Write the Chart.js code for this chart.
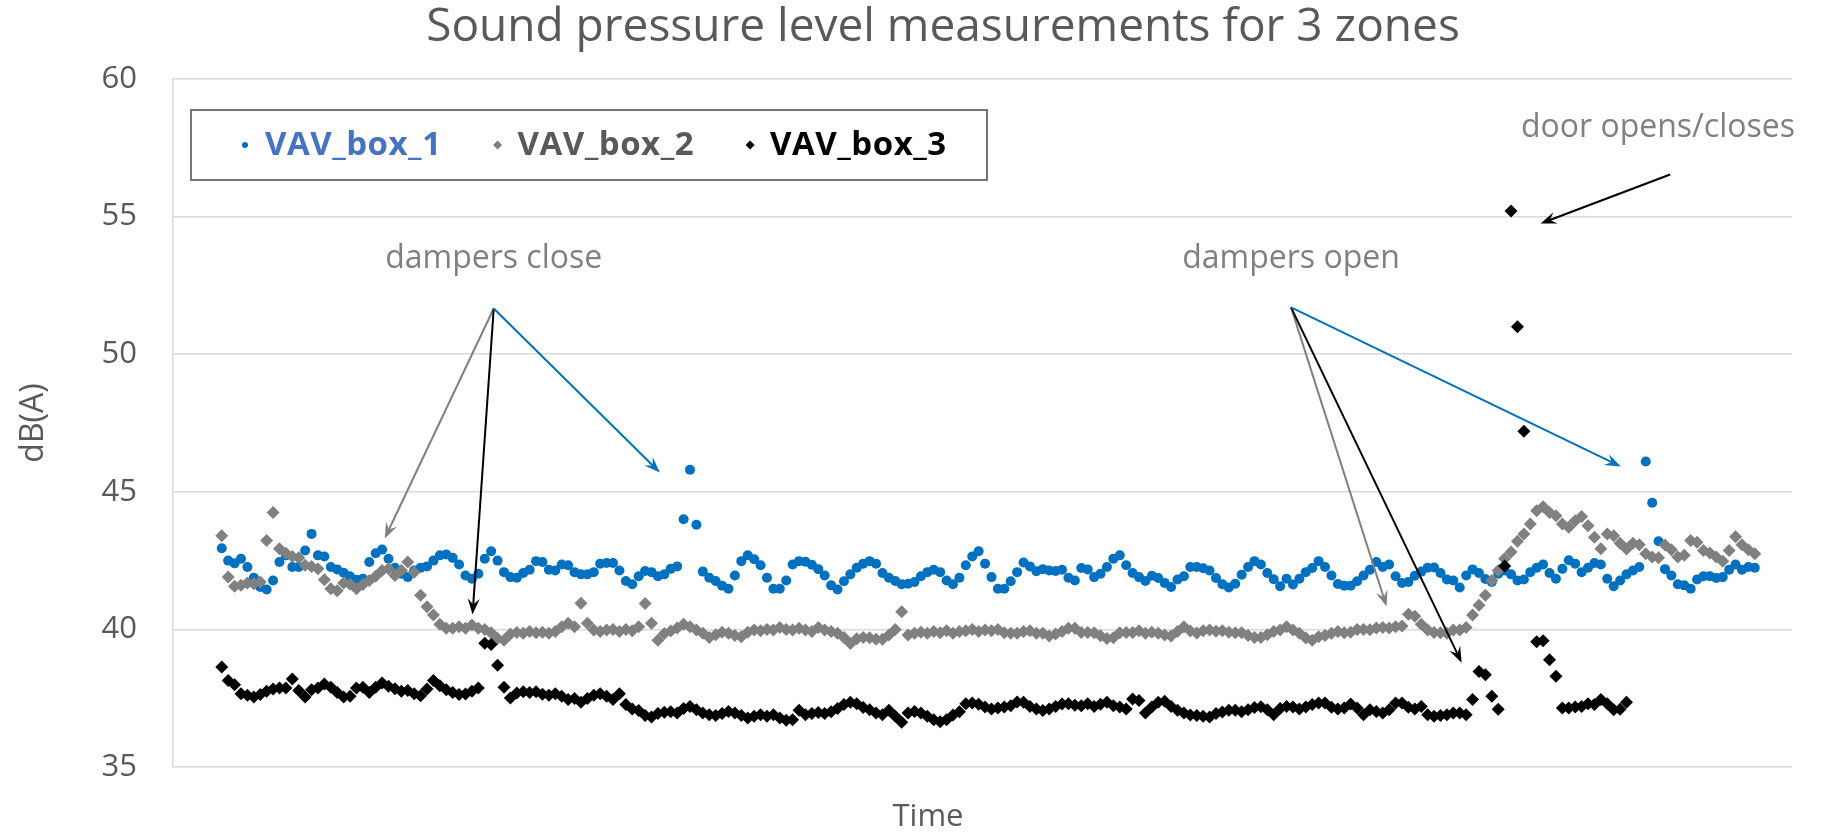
<!DOCTYPE html>
<html>
<head>
<meta charset="utf-8">
<script src="https://cdn.jsdelivr.net/npm/chart.js@4.4.0/dist/chart.umd.min.js"></script>
<style>
  html, body { margin: 0; padding: 0; background: #fff; }
  #wrap { width: 1831px; height: 834px; position: relative; }
</style>
</head>
<body>
<div id="wrap"><canvas id="chart"></canvas></div>
<script>
// sample number along the time axis (no tick labels in the original)
const seriesNames = ['VAV_box_1', 'VAV_box_2', 'VAV_box_3'];

const box1 = [
  42.95, 42.5, 42.4, 42.57, 42.27, 41.88, 41.54, 41.45, 41.78, 42.45,
  42.69, 42.27, 42.27, 42.87, 43.47, 42.69, 42.65, 42.27, 42.18, 42.06,
  41.93, 41.8, 41.84, 42.45, 42.77, 42.9, 42.57, 42.24, 42.02, 41.9,
  42.14, 42.24, 42.29, 42.5, 42.69, 42.72, 42.6, 42.36, 41.96, 41.84,
  42.02, 42.57, 42.84, 42.5, 42.08, 41.9, 41.88, 42.05, 42.17, 42.48,
  42.45, 42.17, 42.14, 42.36, 42.33, 42.08, 42.0, 42.0, 42.08, 42.39,
  42.41, 42.41, 42.14, 41.76, 41.64, 41.93, 42.12, 42.08, 41.93, 42.0,
  42.2, 42.29, 44.0, 45.8, 43.8, 42.1, 41.88, 41.76, 41.59, 41.48,
  41.96, 42.48, 42.69, 42.55, 42.33, 41.88, 41.48, 41.48, 41.78, 42.36,
  42.48, 42.46, 42.35, 42.19, 41.96, 41.6, 41.45, 41.75, 42.0, 42.24,
  42.39, 42.48, 42.39, 42.05, 41.88, 41.76, 41.64, 41.66, 41.72, 41.93,
  42.08, 42.17, 42.08, 41.78, 41.64, 41.88, 42.33, 42.65, 42.84, 42.39,
  41.9, 41.48, 41.48, 41.75, 42.08, 42.43, 42.29, 42.11, 42.19, 42.14,
  42.12, 42.17, 41.88, 41.78, 42.23, 42.18, 41.9, 42.02, 42.27, 42.57,
  42.69, 42.33, 42.05, 41.9, 41.76, 41.95, 41.87, 41.69, 41.54, 41.81,
  41.93, 42.27, 42.27, 42.22, 42.14, 41.87, 41.64, 41.52, 41.66, 41.99,
  42.27, 42.48, 42.36, 42.05, 41.82, 41.57, 41.84, 41.63, 41.84, 42.08,
  42.23, 42.48, 42.27, 41.96, 41.65, 41.59, 41.59, 41.75, 41.96, 42.17,
  42.45, 42.27, 42.36, 41.93, 41.69, 41.72, 41.95, 42.1, 42.24, 42.25,
  42.05, 41.81, 41.78, 41.52, 41.96, 42.18, 42.05, 41.83, 41.72, 42.02,
  42.14, 42.0, 41.78, 41.81, 42.08, 42.24, 42.36, 42.05, 41.84, 42.2,
  42.51, 42.39, 42.08, 42.24, 42.41, 42.36, 41.84, 41.57, 41.78, 42.0,
  42.14, 42.27, 46.1, 44.6, 43.2, 42.19, 41.96, 41.64, 41.6, 41.48,
  41.81, 41.93, 41.93, 41.87, 41.9, 42.17, 42.36, 42.17, 42.27, 42.24
];

const box2 = [
  43.4, 41.9, 41.57, 41.6, 41.69, 41.66, 41.72, 43.23, 44.25, 42.93,
  42.77, 42.65, 42.6, 42.33, 42.29, 42.2, 41.8, 41.48, 41.4, 41.69,
  41.64, 41.48, 41.63, 41.78, 41.93, 42.14, 42.2, 41.96, 42.14, 42.45,
  42.08, 41.24, 40.82, 40.52, 40.19, 40.04, 40.04, 40.1, 40.04, 40.16,
  40.04, 40.0, 39.88, 39.67, 39.61, 39.83, 39.89, 39.86, 39.92, 39.88,
  39.9, 39.86, 39.92, 40.1, 40.22, 40.1, 40.95, 40.22, 39.98, 39.92,
  39.98, 40.0, 39.92, 40.0, 39.95, 40.1, 40.94, 40.22, 39.61, 39.85,
  39.94, 40.05, 40.19, 40.1, 39.98, 39.86, 39.71, 39.81, 39.9, 39.86,
  39.78, 39.73, 39.9, 39.98, 39.95, 40.0, 39.98, 40.07, 40.0, 39.98,
  40.04, 39.98, 39.92, 40.07, 39.98, 39.92, 39.86, 39.71, 39.49, 39.66,
  39.71, 39.7, 39.64, 39.64, 39.8, 40.0, 40.64, 39.8, 39.86, 39.9,
  39.86, 39.92, 39.88, 39.95, 39.86, 39.92, 39.95, 40.0, 39.92, 39.98,
  39.95, 40.0, 39.88, 39.86, 39.86, 39.92, 39.95, 39.86, 39.86, 39.76,
  39.83, 39.92, 40.04, 40.04, 39.89, 39.89, 39.88, 39.77, 39.67, 39.7,
  39.88, 39.89, 39.89, 39.95, 39.86, 39.9, 39.86, 39.8, 39.76, 39.92,
  40.1, 39.94, 39.87, 39.95, 39.98, 39.93, 39.95, 39.9, 39.88, 39.88,
  39.78, 39.71, 39.71, 39.81, 39.92, 39.98, 40.1, 39.98, 39.86, 39.69,
  39.61, 39.73, 39.78, 39.86, 39.92, 39.88, 39.9, 40.0, 40.0, 39.99,
  40.05, 40.07, 40.05, 40.1, 40.12, 40.55, 40.48, 40.19, 39.98, 39.89,
  39.88, 39.86, 39.98, 39.98, 40.07, 40.52, 40.88, 41.24, 41.78, 42.14,
  42.57, 42.81, 43.2, 43.47, 43.83, 44.31, 44.46, 44.25, 44.13, 43.83,
  43.71, 43.95, 44.1, 43.77, 43.35, 42.93, 43.47, 43.4, 43.13, 42.92,
  43.13, 43.08, 42.75, 42.63, 42.6, 43.07, 42.89, 42.63, 42.69, 43.23,
  43.17, 42.87, 42.78, 42.63, 42.48, 42.87, 43.37, 43.08, 42.89, 42.75
];

// null = no reading for that sample
const box3 = [
  38.63, 38.14, 37.99, 37.66, 37.61, 37.54, 37.63, 37.75, 37.83, 37.87,
  37.87, 38.2, 37.78, 37.54, 37.81, 37.87, 38.02, 37.9, 37.71, 37.54,
  37.57, 37.87, 37.9, 37.71, 37.9, 38.05, 37.93, 37.84, 37.75, 37.78,
  37.66, 37.59, 37.83, 38.14, 37.95, 37.81, 37.71, 37.63, 37.65, 37.75,
  37.87, 39.5, 39.45, 38.7, 37.9, 37.51, 37.69, 37.73, 37.71, 37.73,
  37.64, 37.61, 37.66, 37.57, 37.45, 37.49, 37.35, 37.49, 37.61, 37.66,
  37.57, 37.45, 37.66, 37.27, 37.11, 37.05, 36.87, 36.82, 36.94, 36.99,
  37.01, 36.96, 37.13, 37.2, 37.08, 36.96, 36.9, 36.87, 36.94, 37.02,
  36.96, 36.87, 36.78, 36.84, 36.9, 36.84, 36.9, 36.78, 36.7, 36.72,
  37.06, 36.9, 36.94, 36.98, 36.94, 37.01, 37.13, 37.27, 37.35, 37.3,
  37.16, 37.08, 36.96, 36.9, 37.06, 36.84, 36.63, 36.96, 37.02, 36.96,
  36.84, 36.72, 36.64, 36.72, 36.89, 37.01, 37.3, 37.33, 37.28, 37.18,
  37.11, 37.14, 37.18, 37.23, 37.36, 37.35, 37.2, 37.11, 37.05, 37.11,
  37.2, 37.29, 37.3, 37.24, 37.23, 37.3, 37.2, 37.28, 37.35, 37.23,
  37.18, 37.11, 37.47, 37.42, 36.96, 37.18, 37.35, 37.39, 37.2, 37.06,
  36.96, 36.89, 36.87, 36.84, 36.82, 36.94, 37.0, 37.06, 37.06, 37.01,
  37.08, 37.16, 37.19, 37.08, 36.9, 37.13, 37.2, 37.18, 37.11, 37.18,
  37.27, 37.33, 37.33, 37.17, 37.11, 37.14, 37.29, 37.14, 36.9, 37.08,
  37.02, 36.96, 37.08, 37.33, 37.33, 37.17, 37.11, 37.2, 36.9, 36.84,
  36.87, 36.9, 36.96, 36.96, 36.9, 37.45, 38.47, 38.35, 37.57, 37.1,
  42.3, 55.2, 51.0, 47.2, null, 39.55, 39.59, 38.9, 38.3, 37.14,
  37.14, 37.18, 37.2, 37.3, 37.27, 37.45, 37.3, 37.08, 37.1, 37.35,
  null, null, null, null, null, null, null, null, null, null,
  null, null, null, null, null, null, null, null, null, null
];

const seriesValues = [box1, box2, box3];
const markerColors = ['#0070C0', '#808080', '#000000'];
const legendTextColors = ['#4472C4', '#595959', '#000000'];
const markerStyles = ['circle', 'rectRot', 'rectRot'];

const yTicks = [35, 40, 45, 50, 55, 60];

// callouts, placed in data units (sample number, dB(A))
const notes = [
  { text: 'dampers close', x: 42.4, y: 53.47 },
  { text: 'dampers open', x: 166.7, y: 53.47 },
  { text: 'door opens/closes', x: 223.9, y: 58.23 }
];
const arrows = [
  { from: [42.4, 51.66], to: [25.4, 43.3], color: '#808080' },
  { from: [42.4, 51.66], to: [39.1, 40.54], color: '#000000' },
  { from: [42.4, 51.66], to: [68.3, 45.7], color: '#0070C0' },
  { from: [166.7, 51.7], to: [181.6, 40.83], color: '#808080' },
  { from: [166.7, 51.7], to: [193.3, 38.79], color: '#000000' },
  { from: [166.7, 51.7], to: [218.1, 45.92], color: '#0070C0' },
  { from: [225.8, 56.53], to: [205.6, 54.75], color: '#000000' }
];

Chart.defaults.font.family = '"Open Sans", sans-serif';

function drawArrow(ctx, x1, y1, x2, y2, color) {
  const ang = Math.atan2(y2 - y1, x2 - x1);
  const len = 16, half = 6, notch = 10;
  ctx.save();
  ctx.strokeStyle = color;
  ctx.fillStyle = color;
  ctx.lineWidth = 2;
  ctx.beginPath();
  ctx.moveTo(x1, y1);
  ctx.lineTo(x2 - Math.cos(ang) * notch, y2 - Math.sin(ang) * notch);
  ctx.stroke();
  ctx.translate(x2, y2);
  ctx.rotate(ang);
  ctx.beginPath();
  ctx.moveTo(0, 0);
  ctx.lineTo(-len, -half);
  ctx.lineTo(-notch, 0);
  ctx.lineTo(-len, half);
  ctx.closePath();
  ctx.fill();
  ctx.restore();
}

const overlay = {
  id: 'overlay',
  afterDraw(chart) {
    const ctx = chart.ctx;
    const area = chart.chartArea;
    const xs = chart.scales.x, ys = chart.scales.y;

    // chart title and x-axis title
    ctx.save();
    ctx.fillStyle = '#595959';
    ctx.textAlign = 'center';
    ctx.textBaseline = 'middle';
    ctx.font = '46px "Open Sans", sans-serif';
    ctx.fillText('Sound pressure level measurements for 3 zones', 943, 28);
    ctx.font = '31px "Open Sans", sans-serif';
    ctx.fillText('Time', 928, 817);
    ctx.restore();

    // legend inside the plot
    const bx = area.left + 18, by = area.top + 31, bw = 796, bh = 70;
    ctx.save();
    ctx.fillStyle = '#ffffff';
    ctx.fillRect(bx, by, bw, bh);
    ctx.strokeStyle = '#767676';
    ctx.lineWidth = 2;
    ctx.strokeRect(bx, by, bw, bh);
    ctx.font = 'bold 33px "Open Sans", sans-serif';
    ctx.letterSpacing = '0.5px';
    ctx.textBaseline = 'middle';
    let lx = bx + 54;
    const ly = by + bh / 2;
    chart.data.datasets.forEach((ds, i) => {
      ctx.fillStyle = markerColors[i];
      ctx.beginPath();
      if (markerStyles[i] === 'circle') {
        ctx.arc(lx, ly, 3, 0, Math.PI * 2);
      } else {
        ctx.moveTo(lx, ly - 4.5); ctx.lineTo(lx + 4.5, ly);
        ctx.lineTo(lx, ly + 4.5); ctx.lineTo(lx - 4.5, ly);
        ctx.closePath();
      }
      ctx.fill();
      ctx.fillStyle = legendTextColors[i];
      ctx.textAlign = 'left';
      ctx.fillText(ds.label, lx + 20, ly + 1);
      lx += 20 + ctx.measureText(ds.label).width + 56;
    });
    ctx.restore();

    // callout texts and arrows
    ctx.save();
    ctx.fillStyle = '#808080';
    ctx.font = '32px "Open Sans", sans-serif';
    ctx.textAlign = 'center';
    ctx.textBaseline = 'middle';
    notes.forEach(n => ctx.fillText(n.text, xs.getPixelForValue(n.x), ys.getPixelForValue(n.y)));
    ctx.restore();
    arrows.forEach(a => drawArrow(ctx,
      xs.getPixelForValue(a.from[0]), ys.getPixelForValue(a.from[1]),
      xs.getPixelForValue(a.to[0]), ys.getPixelForValue(a.to[1]), a.color));
  }
};

const datasets = seriesNames.map((name, s) => ({
  label: name,
  data: seriesValues[s].map((v, i) => ({ x: i, y: v })),
  pointStyle: markerStyles[s],
  pointRadius: s === 0 ? 5 : 6.5,
  pointBackgroundColor: markerColors[s],
  pointBorderWidth: 0,
  showLine: false,
  order: 2 - s
}));

new Chart(document.getElementById('chart'), {
  type: 'scatter',
  data: { datasets },
  options: {
    responsive: true,
    maintainAspectRatio: false,
    animation: false,
    layout: { padding: { top: 79, right: 39, left: 0, bottom: 0 } },
    plugins: { legend: { display: false }, title: { display: false }, tooltip: { enabled: false } },
    scales: {
      x: {
        type: 'linear',
        min: -7.6,
        max: 244.8,
        grid: { display: false },
        border: { display: false },
        ticks: { display: false },
        title: { display: false, text: 'Time' },
        afterFit: s => { s.height = 67; }
      },
      y: {
        min: 35,
        max: 60,
        afterBuildTicks: s => { s.ticks = yTicks.map(v => ({ value: v })); },
        ticks: { color: '#595959', font: { size: 31 }, padding: 36 },
        grid: { color: '#d9d9d9', lineWidth: 1.5, drawTicks: false },
        border: { display: true, color: '#d9d9d9', width: 1.5 },
        title: { display: true, text: 'dB(A)', color: '#595959', font: { size: 32 }, padding: { top: 15, bottom: 0 } },
        afterFit: s => { s.width = 173; }
      }
    }
  },
  plugins: [overlay]
});
</script>
</body>
</html>
